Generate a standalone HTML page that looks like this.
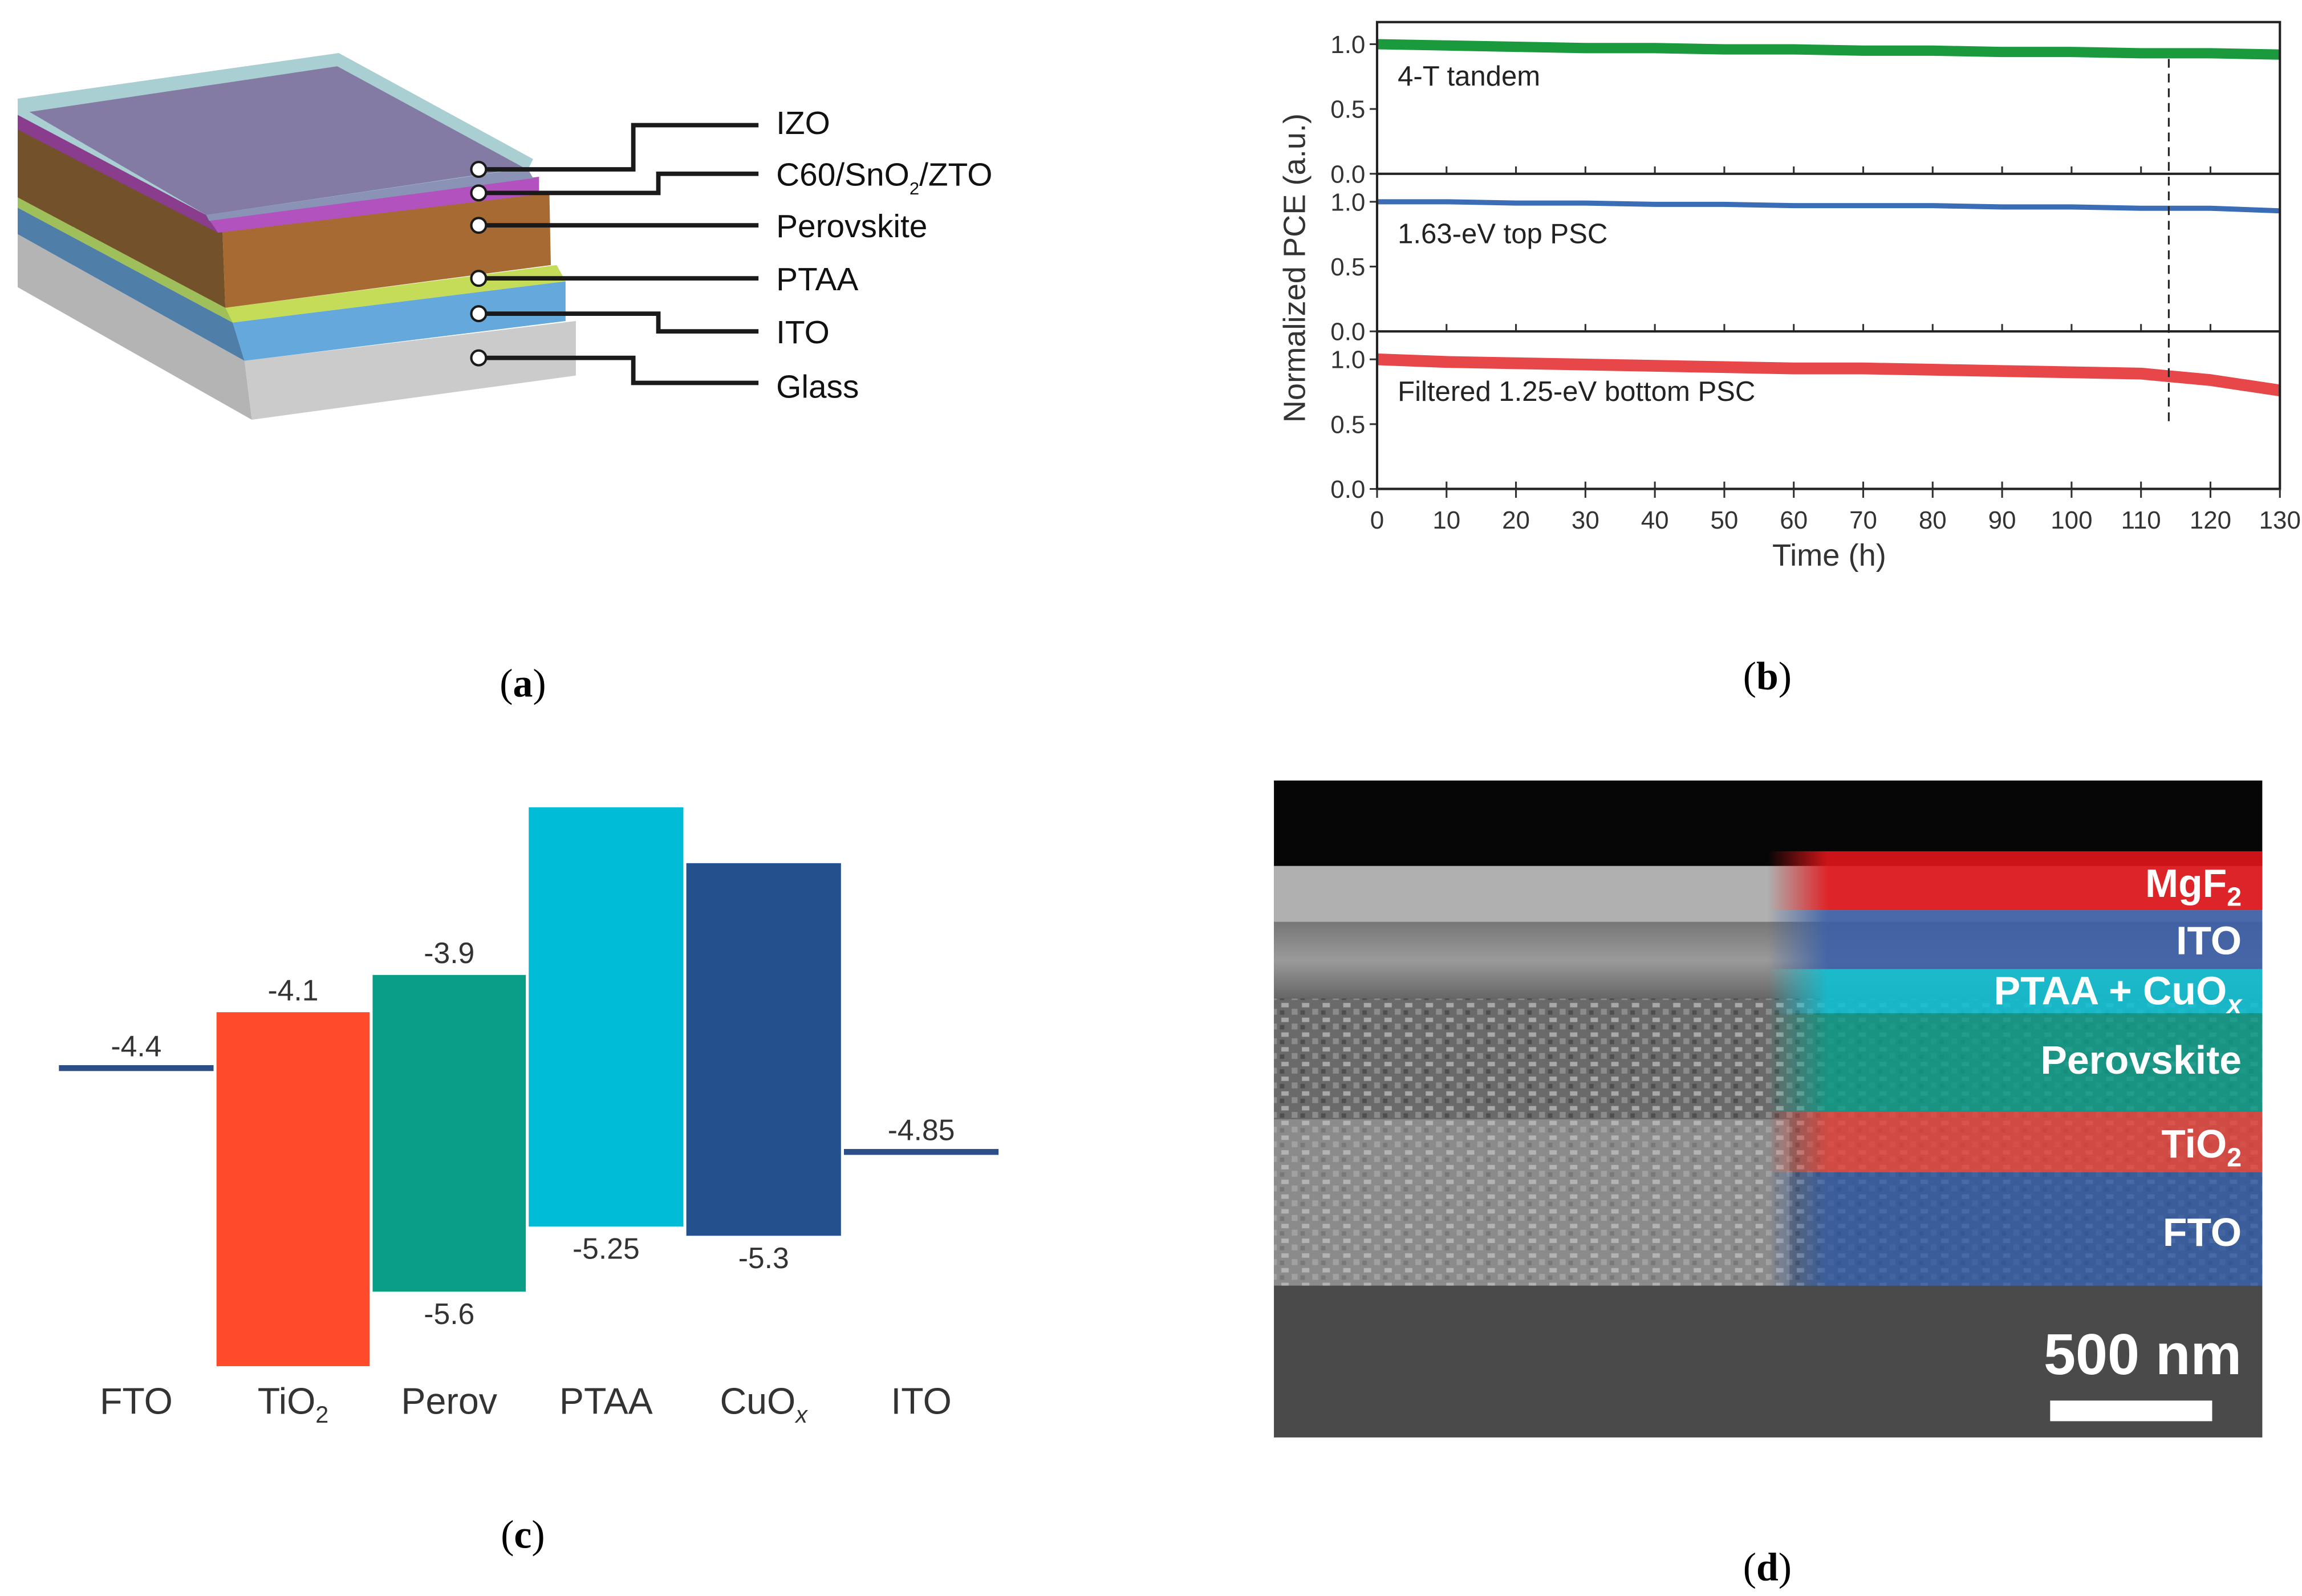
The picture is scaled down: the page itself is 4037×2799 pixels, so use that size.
<!DOCTYPE html>
<html><head><meta charset="utf-8"><style>
html,body{margin:0;padding:0;background:#fff;}
svg{display:block;}
text{font-family:"Liberation Sans",sans-serif;}
.cap{font-family:"Liberation Serif",serif;font-size:27px;}
</style></head><body>
<svg id="root" width="4037" height="2799" viewBox="0 0 1563 1083.7" preserveAspectRatio="none" xmlns="http://www.w3.org/2000/svg">
<defs>
<linearGradient id="fade" x1="0" x2="1" y1="0" y2="0"><stop offset="0" stop-color="#fff" stop-opacity="0"/><stop offset="0.12" stop-color="#fff" stop-opacity="1"/></linearGradient>
<mask id="ovmask"><rect x="1200" y="570" width="340" height="310" fill="url(#fade)"/></mask>
<linearGradient id="semlayer" x1="0" x2="0" y1="0" y2="1"><stop offset="0" stop-color="#777"/><stop offset="0.5" stop-color="#9a9a9a"/><stop offset="1" stop-color="#666"/></linearGradient>
<pattern id="grain" width="14" height="10" patternUnits="userSpaceOnUse"><rect width="14" height="10" fill="#6a6a6a"/><rect x="2" y="1" width="5" height="3" fill="#a8a8a8"/><rect x="9" y="5" width="4" height="4" fill="#8c8c8c"/><rect x="1" y="6" width="3" height="3" fill="#4e4e4e"/></pattern>
</defs>

<!-- Panel a -->
<g>
  <polygon points="12,159 166,245 171,285 12,195" fill="#b4b4b4"/>
  <polygon points="166,245 391,218 391,255 171,285" fill="#cbcbcb"/>
  <polygon points="12,141 158,219 166,245 12,159" fill="#4f7fa8"/>
  <polygon points="158,219 384,191 384,218 166,245" fill="#65a8db"/>
  <polygon points="12,134 156,209 158,219 12,141" fill="#9fbf5a"/>
  <polygon points="153,209 378,180 384,191 158,219" fill="#c5dc58"/>
  <polygon points="12,86 151,155 153,209 12,134" fill="#72512b"/>
  <polygon points="151,155 373,130 374,180 153,209" fill="#a66a32"/>
  <polygon points="12,67 230,36 362,108 358,116 140,146 12,80" fill="#a9cfd2"/>
  <polygon points="12,78 140,146 148,158 12,88" fill="#8a3d8d"/>
  <polygon points="140,146 366,120 366,132 148,158" fill="#b252be"/>
  <polygon points="20,76 229,45 356,114 140,146" fill="#837ba3"/>
  <polygon points="140,146 358,114 362,121 142,150" fill="#8a93b5"/>
  <g fill="none" stroke="#1a1a1a" stroke-width="3">
    <polyline points="325,115 430,115 430,85 515,85"/>
    <polyline points="325,131 447,131 447,118 515,118"/>
    <polyline points="325,153 515,153"/>
    <polyline points="325,189 515,189"/>
    <polyline points="325,213 447,213 447,225 515,225"/>
    <polyline points="325,243 430,243 430,260 515,260"/>
  </g>
  <g fill="#fff" stroke="#1a1a1a" stroke-width="1.6">
    <circle cx="325" cy="115" r="5"/><circle cx="325" cy="131" r="5"/><circle cx="325" cy="153" r="5"/>
    <circle cx="325" cy="189" r="5"/><circle cx="325" cy="213" r="5"/><circle cx="325" cy="243" r="5"/>
  </g>
  <g font-size="22" fill="#111">
    <text x="527" y="91">IZO</text>
    <text x="527" y="126">C60/SnO<tspan font-size="12" dy="6">2</tspan><tspan dy="-6">/ZTO</tspan></text>
    <text x="527" y="161">Perovskite</text>
    <text x="527" y="197">PTAA</text>
    <text x="527" y="233">ITO</text>
    <text x="527" y="270">Glass</text>
  </g>
</g>
<text class="cap" x="355" y="473" text-anchor="middle">(<tspan font-weight="bold">a</tspan>)</text>

<!-- Panel b -->
<g id="chartB"></g>
<text class="cap" x="1200" y="468" text-anchor="middle">(<tspan font-weight="bold">b</tspan>)</text>

<!-- Panel c -->
<g id="chartC"></g>
<text class="cap" x="355" y="1051" text-anchor="middle">(<tspan font-weight="bold">c</tspan>)</text>

<!-- Panel d -->
<g>
  <rect x="865" y="530" width="671" height="446" fill="#3a3a3a"/>
  <rect x="865" y="530" width="671" height="58" fill="#060606"/>
  <rect x="865" y="588" width="671" height="38" fill="#b0b0b0"/>
  <rect x="865" y="626" width="671" height="52" fill="url(#semlayer)"/>
  <rect x="865" y="678" width="671" height="195" fill="url(#grain)"/>
  <rect x="865" y="760" width="350" height="113" fill="#c9c9c9" opacity="0.35"/>
  <rect x="865" y="873" width="671" height="103" fill="#4a4a4a"/>
  <g mask="url(#ovmask)">
    <rect x="1200" y="578" width="336" height="40" fill="#e2161b" opacity="0.9"/>
    <rect x="1200" y="618" width="336" height="40" fill="#3a5fa8" opacity="0.88"/>
    <rect x="1200" y="658" width="336" height="30" fill="#10bfd0" opacity="0.9"/>
    <rect x="1200" y="688" width="336" height="67" fill="#0a9a86" opacity="0.85"/>
    <rect x="1200" y="755" width="336" height="41" fill="#e0453c" opacity="0.85"/>
    <rect x="1200" y="796" width="336" height="77" fill="#2f5aa6" opacity="0.8"/>
  </g>
  <g fill="#fff" font-weight="bold" font-size="27" text-anchor="end">
    <text x="1522" y="609">MgF<tspan font-size="18" dy="6">2</tspan></text>
    <text x="1522" y="648">ITO</text>
    <text x="1522" y="682">PTAA + CuO<tspan font-size="18" dy="6" font-style="italic">x</tspan></text>
    <text x="1522" y="729">Perovskite</text>
    <text x="1522" y="786">TiO<tspan font-size="18" dy="6">2</tspan></text>
    <text x="1522" y="846">FTO</text>
    <text x="1522" y="933" font-size="39">500 nm</text>
  </g>
  <rect x="1392" y="951" width="110" height="14" fill="#fff"/>
</g>
<text class="cap" x="1200" y="1073" text-anchor="middle">(<tspan font-weight="bold">d</tspan>)</text>
</svg>

<script>
// ---------- Panel b data ----------
const timeHours = [0,10,20,30,40,50,60,70,80,90,100,110,120,130];
const tandemPCE = [1.00,0.99,0.98,0.97,0.97,0.96,0.96,0.95,0.95,0.94,0.94,0.93,0.93,0.92];
const topPCE    = [1.00,1.00,0.99,0.99,0.98,0.98,0.97,0.97,0.97,0.96,0.96,0.95,0.95,0.93];
const bottomPCE = [1.00,0.98,0.97,0.96,0.95,0.94,0.93,0.93,0.92,0.91,0.90,0.89,0.84,0.76];
const xTicks = [0,10,20,30,40,50,60,70,80,90,100,110,120,130];
const yTicks = [0.0,0.5,1.0];
const seriesLabels = ["4-T tandem","1.63-eV top PSC","Filtered 1.25-eV bottom PSC"];
const markerTime = 114;

// ---------- Panel c data ----------
const layerNames = ["FTO","TiO2","Perov","PTAA","CuOx","ITO"];
const upperLevel = [-4.4,-4.1,-3.9,-3.0,-3.3,-4.85];
const lowerLevel = [null,-6.0,-5.6,-5.25,-5.3,null];
const upperLabels = ["-4.4","-4.1","-3.9","","","-4.85"];
const lowerLabels = ["","","-5.6","-5.25","-5.3",""];

const NS="http://www.w3.org/2000/svg";
function mk(tag, attrs, parent){const e=document.createElementNS(NS,tag);for(const k in attrs)e.setAttribute(k,attrs[k]);parent.appendChild(e);return e;}

// ---- chart b ----
(function(){
  const g=document.getElementById('chartB');
  const x0=935,x1=1548;
  const xs=t=>x0+(t-0)/130*(x1-x0);
  const panels=[{zero:118,one:30,data:tandemPCE,color:"#1a9a3c",w:7},{zero:225,one:137,data:topPCE,color:"#3a6db5",w:3.5},{zero:332,one:244,data:bottomPCE,color:"#e8474a",w:8}];
  panels.forEach((p,i)=>{
    const ys=v=>p.zero+(p.one-p.zero)*v;
    const pts=timeHours.map((t,j)=>xs(t)+","+ys(p.data[j])).join(" ");
    const line=mk('polyline',{points:pts,fill:"none",stroke:p.color,"stroke-width":p.w,"stroke-linejoin":"round"},g);
    
    
    yTicks.forEach(v=>{
      mk('line',{x1:x0-5,x2:x0,y1:ys(v),y2:ys(v),stroke:"#333","stroke-width":1.2},g);
      const t=mk('text',{x:x0-8,y:ys(v)+6,"text-anchor":"end","font-size":17,fill:"#333"},g);
      t.textContent=v.toFixed(1);
      
      
    });
    xTicks.forEach(tk=>{mk('line',{x1:xs(tk),x2:xs(tk),y1:p.zero,y2:p.zero-5,stroke:"#333","stroke-width":1.2},g);});
    const lab=mk('text',{x:949,y:ys(0.68),"font-size":19,fill:"#222"},g);
    lab.textContent=seriesLabels[i];
    
    
    mk('line',{x1:x0,x2:x1,y1:p.zero,y2:p.zero,stroke:"#222","stroke-width":1.6},g);
  });
  mk('rect',{x:x0,y:15,width:x1-x0,height:317,fill:"none",stroke:"#222","stroke-width":1.6},g);
  const dl=mk('line',{x1:xs(markerTime),x2:xs(markerTime),y1:40,y2:290,stroke:"#222","stroke-width":1.2,"stroke-dasharray":"6,4"},g);
  
  
  xTicks.forEach(tk=>{
    mk('line',{x1:xs(tk),x2:xs(tk),y1:332,y2:338,stroke:"#333","stroke-width":1.2},g);
    const t=mk('text',{x:xs(tk),y:359,"text-anchor":"middle","font-size":17,fill:"#333"},g);
    t.textContent=tk;
    
    
  });
  const xt=mk('text',{x:1242,y:384,"text-anchor":"middle","font-size":21,fill:"#333"},g);
  xt.textContent="Time (h)";
  
  
  const yt=mk('text',{x:0,y:0,transform:"translate(886,182) rotate(-90)","text-anchor":"middle","font-size":21,fill:"#333"},g);
  yt.textContent="Normalized PCE (a.u.)";
  
  
})();

// ---- chart c ----
(function(){
  const g=document.getElementById('chartC');
  const ey=v=>662+(-3.9-v)*126.5;
  const colX=[40,147,253,359,466,573];
  const colW=[105,104,104,105,105,105];
  const colors=["#2b4f86","#ff4b2b","#0a9e86","#00bcd6","#24508e","#2b4f86"];
  layerNames.forEach((n,i)=>{
    if(lowerLevel[i]===null){
      const l=mk('rect',{x:colX[i],y:ey(upperLevel[i])-2,width:colW[i],height:4,fill:colors[i]},g);
      
      
    } else {
      const r=mk('rect',{x:colX[i],y:ey(upperLevel[i]),width:colW[i],height:ey(lowerLevel[i])-ey(upperLevel[i]),fill:colors[i]},g);
      
      
    }
    const cx=colX[i]+colW[i]/2;
    if(upperLabels[i]){
      const t=mk('text',{x:cx,y:ey(upperLevel[i])-8,"text-anchor":"middle","font-size":20,fill:"#333"},g);
      t.textContent=upperLabels[i];
      
      
    }
    if(lowerLabels[i]){
      const t=mk('text',{x:cx,y:ey(lowerLevel[i])+22,"text-anchor":"middle","font-size":20,fill:"#333"},g);
      t.textContent=lowerLabels[i];
      
      
    }
    const c=mk('text',{x:cx,y:960,"text-anchor":"middle","font-size":25,fill:"#333"},g);
    
    
    if(n==="TiO2"){c.innerHTML='TiO<tspan font-size="16" dy="6">2</tspan>';}
    else if(n==="CuOx"){c.innerHTML='CuO<tspan font-size="16" dy="6" font-style="italic">x</tspan>';}
    else c.textContent=n;
  });
})();
</script>
</body></html>
